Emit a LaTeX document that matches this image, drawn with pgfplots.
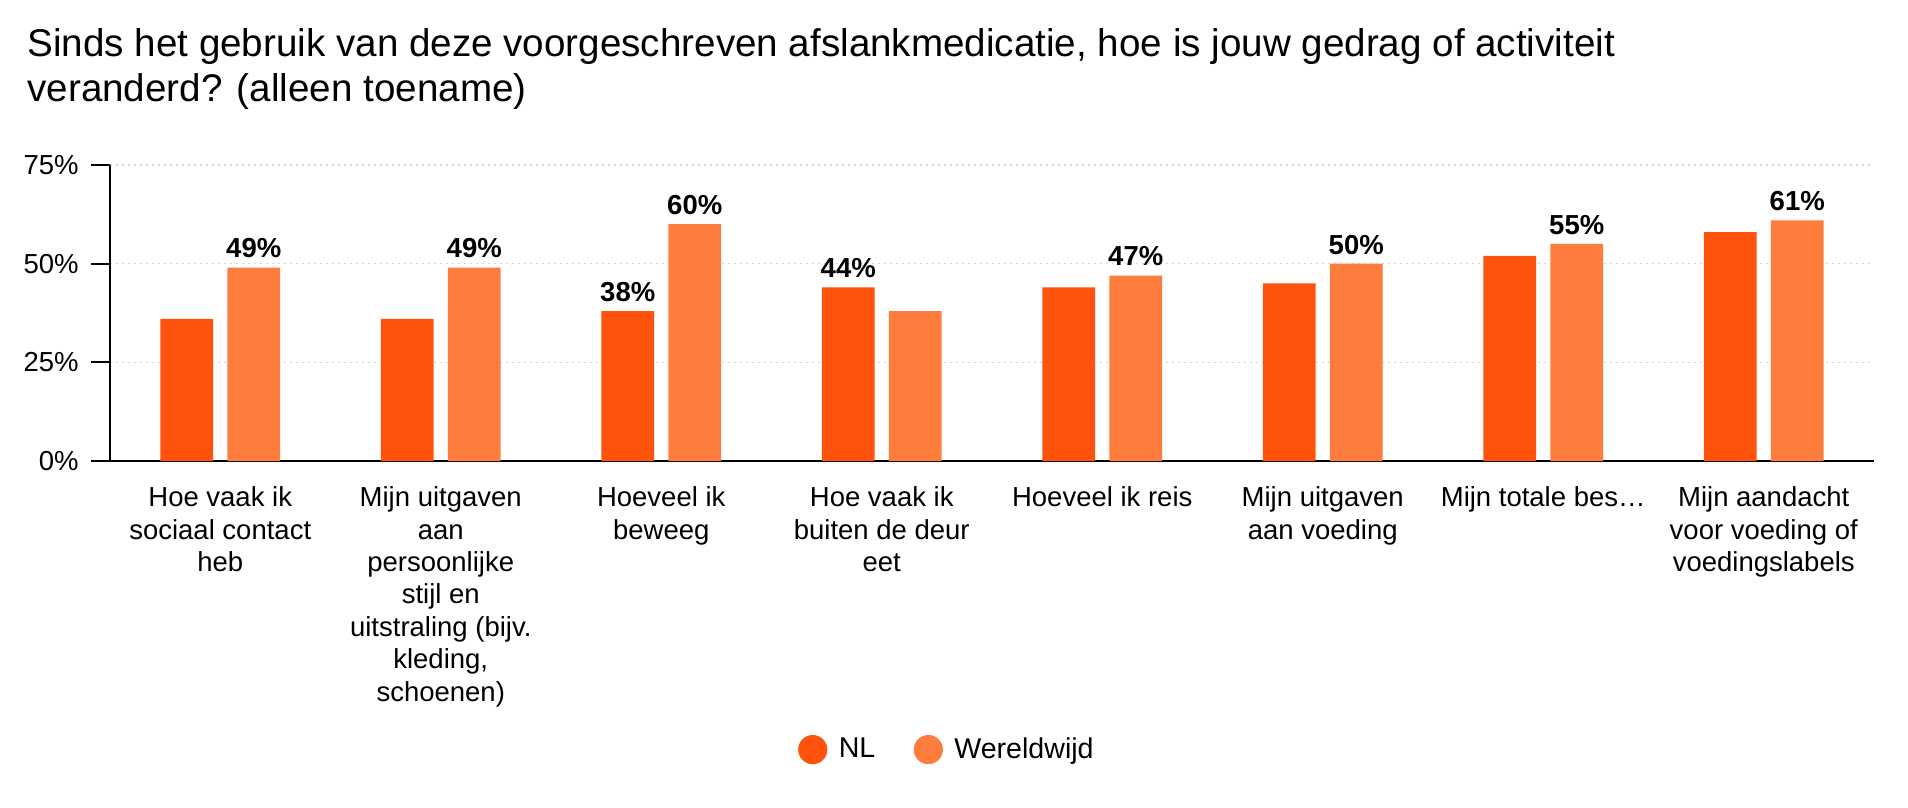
\documentclass[border=0pt]{standalone}
\usepackage{fontspec}
\setmainfont{Liberation Sans}
\usepackage{pgfplots}
\pgfplotsset{compat=1.18}
\usepackage{pgfplotstable}
\definecolor{nlc}{RGB}{255,83,13}
\definecolor{wwc}{RGB}{255,125,60}
\definecolor{gridc}{RGB}{215,215,215}

\pgfplotstableread{
x nl nllab ww wwlab
0 36 {} 49 49\%
1 36 {} 49 49\%
2 38 38\% 60 60\%
3 44 44\% 38 {}
4 44 {} 47 47\%
5 45 {} 50 50\%
6 52 {} 55 55\%
7 58 {} 61 61\%
}\data

\begin{document}
\begin{tikzpicture}
% page: 1908x808 px at 0.5pt per px
\path[use as bounding box] (-55pt,-173.5pt) rectangle (899pt,230.5pt);
\begin{axis}[
  name=ax, at={(0,0)}, anchor=south west,
  scale only axis, width=882pt, height=148pt,
  ybar, bar width=26.3pt, ybar=7.2pt,
  xmin=-0.5, xmax=7.5, ymin=0, ymax=75,
  axis x line*=bottom, axis y line*=left,
  axis line style={line width=1pt, black},
  xtick=data,
  xticklabels={{Hoe vaak ik\\sociaal contact\\heb},
    {Mijn uitgaven\\aan\\persoonlijke\\stijl en\\uitstraling (bijv.\\kleding,\\schoenen)},
    {Hoeveel ik\\beweeg},
    {Hoe vaak ik\\buiten de deur\\eet},
    {Hoeveel ik reis},
    {Mijn uitgaven\\aan voeding},
    {Mijn totale bes…},
    {Mijn aandacht\\voor voeding of\\voedingslabels}},
  x tick style={draw=none},
  x tick label style={align=center, font=\fontsize{13.75}{16.2}\selectfont, inner sep=0pt, yshift=-3.2pt},
  ytick={0,25,50,75},
  yticklabels={0\%,25\%,50\%,75\%},
  y tick label style={font=\fontsize{13.75}{16}\selectfont, inner sep=0pt, xshift=-6pt},
  tick align=outside, major tick length=9.5pt,
  y tick style={line width=1pt, black},
  ymajorgrids, grid style={gridc, line width=0.8pt, dash pattern=on 1pt off 2pt},
  point meta=explicit symbolic,
  nodes near coords={\pgfplotspointmeta},
  nodes near coords style={font=\bfseries\fontsize{13.75}{16}\selectfont, text=black, anchor=south, inner sep=0pt, yshift=4.5pt},
  legend columns=2,
  legend style={draw=none, fill=none, at={(0.475,-0.975)}, anchor=center,
    font=\fontsize{14.3}{16}\selectfont,
    /tikz/every even column/.append style={column sep=17.2pt}},
]
\addplot[fill=nlc, draw=none,
  legend image code/.code={\path[fill=none, draw=none] (-7.3pt,0pt) -- (11pt,0pt); \fill[nlc] (0pt,0pt) circle (7.3pt);}]
  table[x=x, y=nl, meta=nllab] {\data};
\addplot[fill=wwc, draw=none,
  legend image code/.code={\path[fill=none, draw=none] (-7.3pt,0pt) -- (11pt,0pt); \fill[wwc] (0pt,0pt) circle (7.3pt);}]
  table[x=x, y=ww, meta=wwlab] {\data};
\legend{NL, Wereldwijd}
\end{axis}
\node[anchor=base west, align=left, inner sep=0pt, font=\fontsize{19.3}{22.8}\selectfont]
  at ([xshift=-41.5pt, yshift=31.7pt]ax.north west)
  {Sinds het gebruik van deze voorgeschreven afslankmedicatie, hoe is jouw gedrag of activiteit\\veranderd? (alleen toename)};
\end{tikzpicture}
\end{document}
